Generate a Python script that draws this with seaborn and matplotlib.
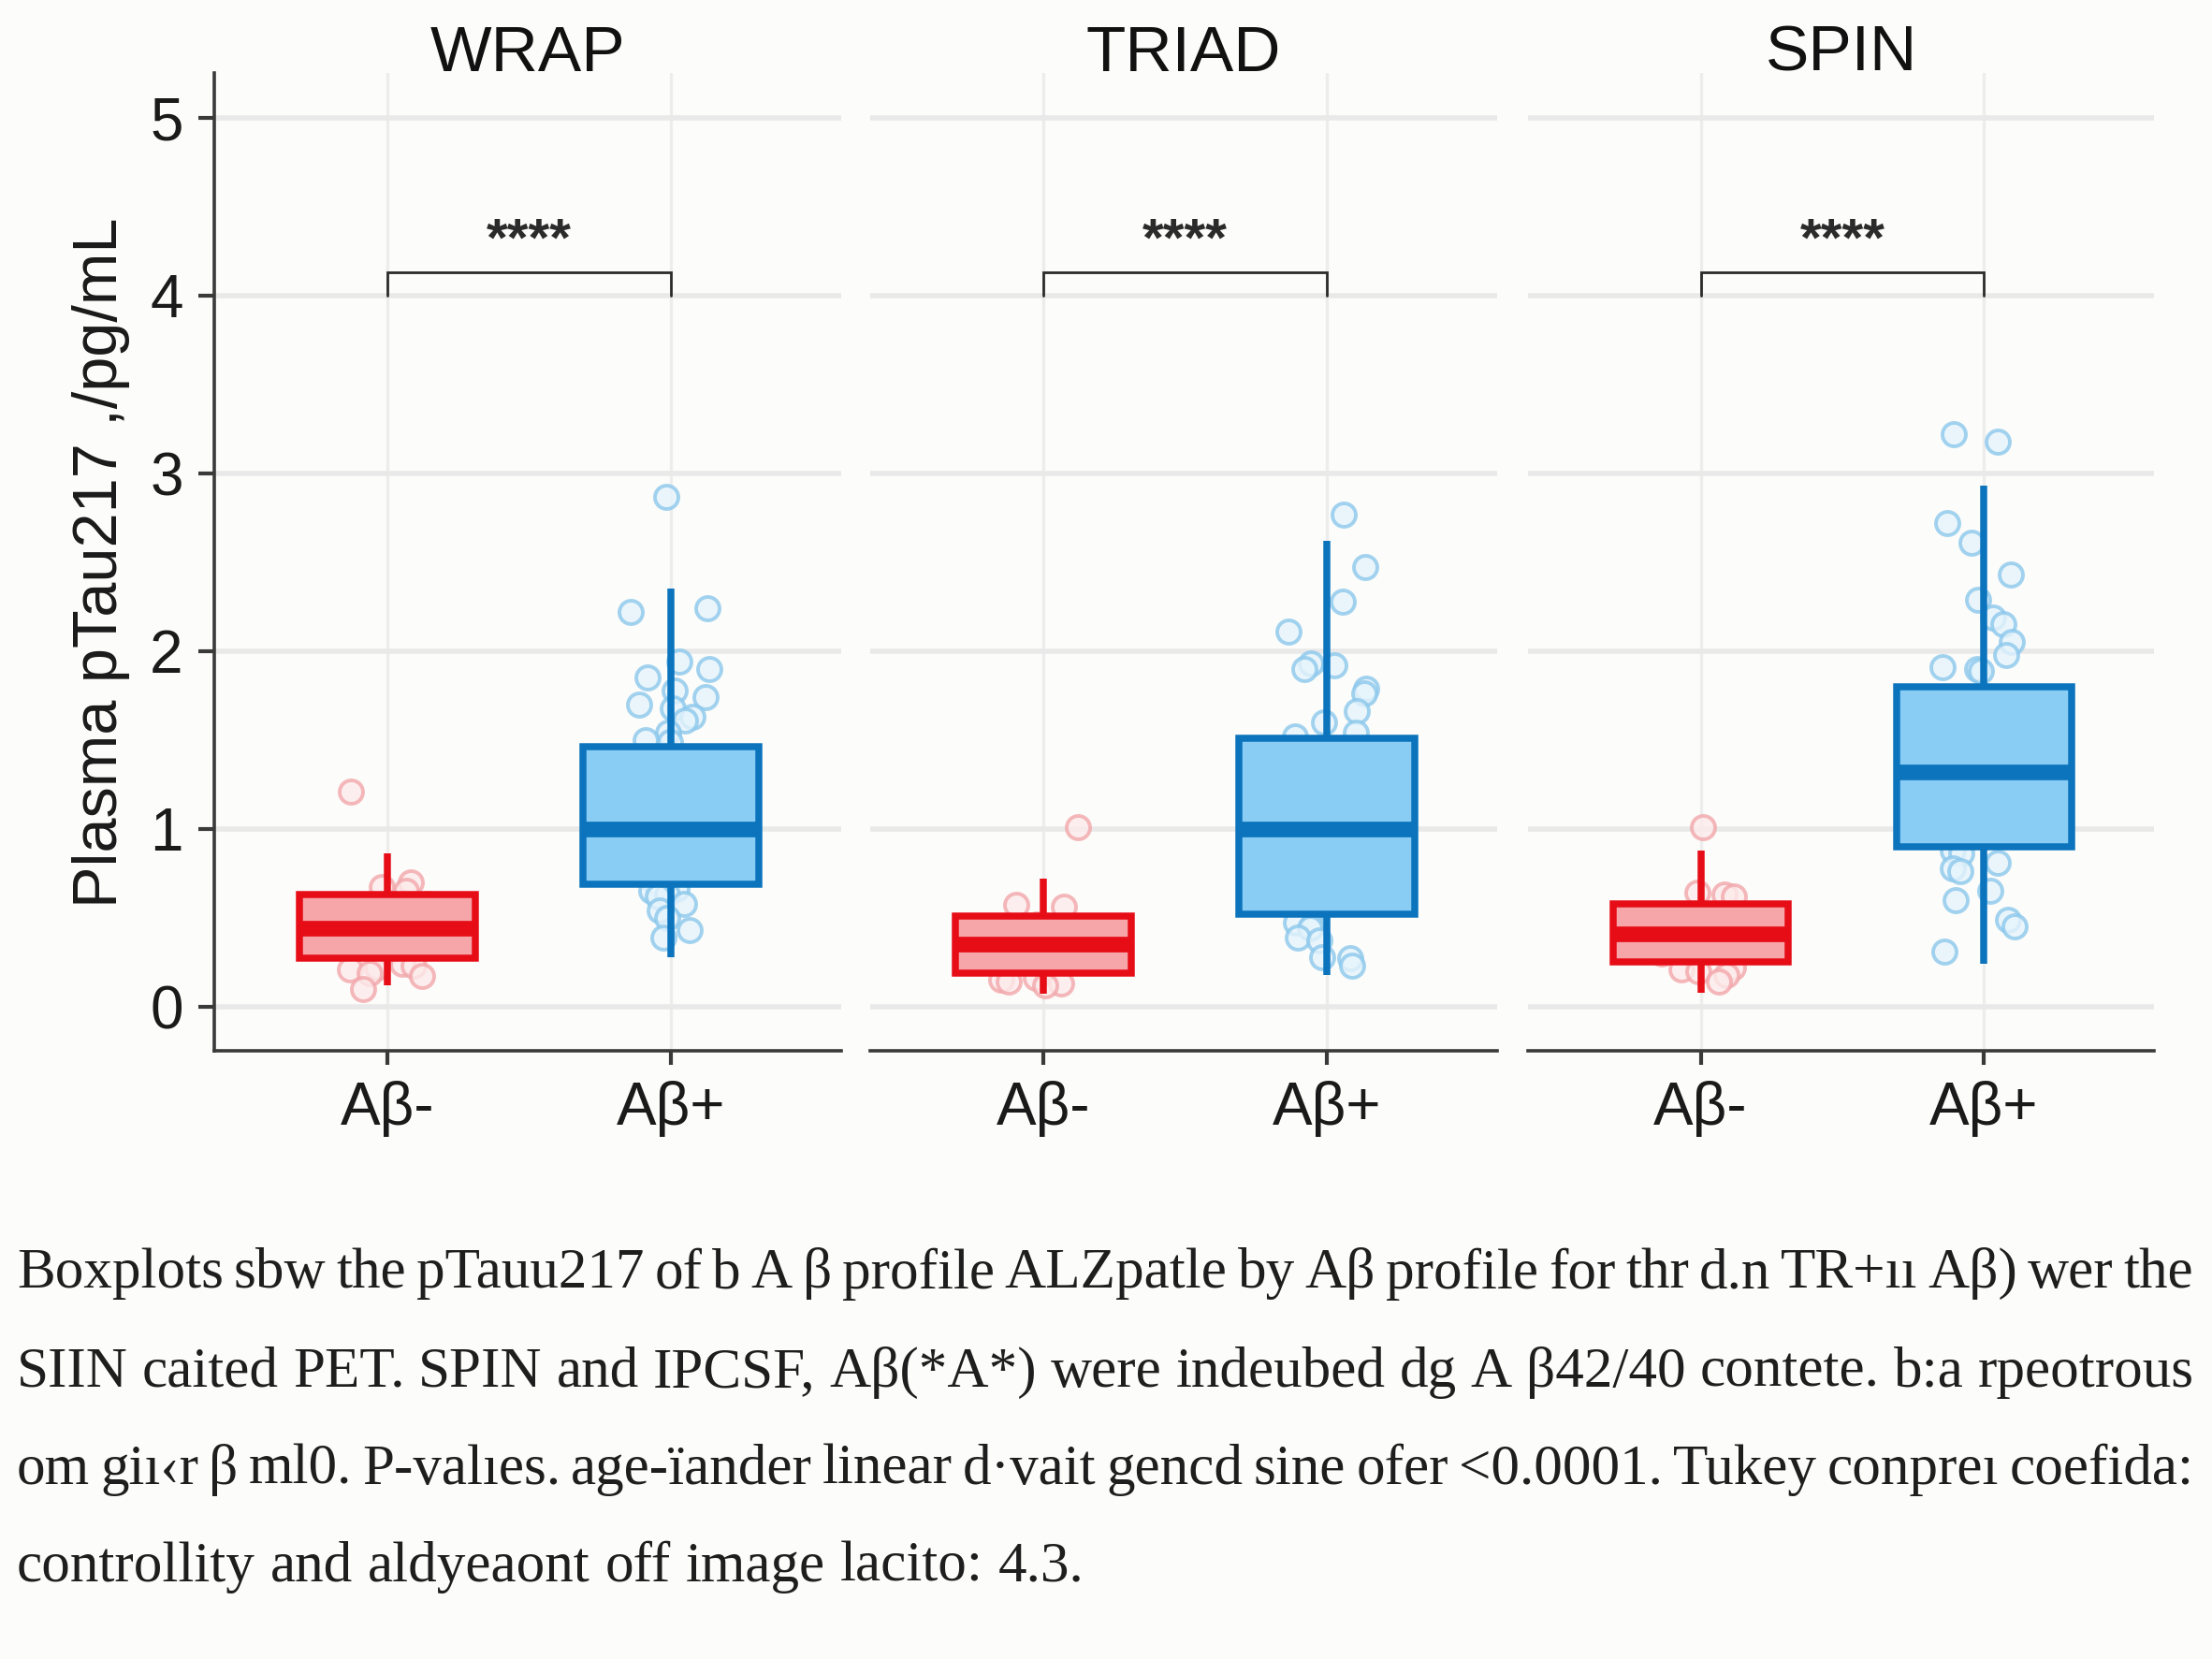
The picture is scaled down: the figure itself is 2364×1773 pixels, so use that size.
import numpy as np
import pandas as pd
import matplotlib
matplotlib.use("Agg")
import matplotlib.pyplot as plt
import seaborn as sns

# --- data ---------------------------------------------------------------
studies = ["WRAP", "TRIAD", "SPIN"]
groups = ["Aβ-", "Aβ+"]

# five-number summaries: whisker low, Q1, median, Q3, whisker high
wrap_neg_box = [0.12, 0.27, 0.44, 0.63, 0.86]
wrap_pos_box = [0.28, 0.69, 1.00, 1.46, 2.35]
triad_neg_box = [0.07, 0.19, 0.35, 0.51, 0.72]
triad_pos_box = [0.18, 0.52, 1.00, 1.51, 2.62]
spin_neg_box = [0.08, 0.25, 0.41, 0.58, 0.88]
spin_pos_box = [0.24, 0.90, 1.32, 1.80, 2.93]

# individual participants
wrap_neg_pts = [1.21, 0.70, 0.67, 0.65, 0.58, 0.52, 0.47, 0.41, 0.36, 0.31,
                0.24, 0.23, 0.22, 0.21, 0.19, 0.17, 0.10]
wrap_pos_pts = [2.87, 2.24, 2.22, 1.94, 1.90, 1.85, 1.78, 1.74, 1.70, 1.68,
                1.63, 1.61, 1.54, 1.50, 1.49, 1.35, 1.22, 1.10, 0.95, 0.84,
                0.70, 0.66, 0.65, 0.63, 0.62, 0.58, 0.54, 0.50, 0.43, 0.39]
triad_neg_pts = [1.01, 0.57, 0.56, 0.46, 0.40, 0.30, 0.24, 0.16, 0.15, 0.14,
                 0.13, 0.12]
triad_pos_pts = [2.77, 2.47, 2.28, 2.11, 1.93, 1.92, 1.90, 1.79, 1.76, 1.66,
                 1.60, 1.54, 1.52, 1.30, 1.15, 0.85, 0.70, 0.47, 0.46, 0.45,
                 0.44, 0.39, 0.37, 0.28, 0.27, 0.23]
spin_neg_pts = [1.01, 0.64, 0.63, 0.62, 0.50, 0.44, 0.35, 0.30, 0.22, 0.21,
                0.20, 0.18, 0.14]
spin_pos_pts = [3.22, 3.18, 2.72, 2.61, 2.43, 2.29, 2.19, 2.15, 2.05, 1.98,
                1.91, 1.90, 1.89, 1.60, 1.40, 1.30, 1.16, 1.10, 0.88, 0.86,
                0.81, 0.78, 0.76, 0.65, 0.60, 0.49, 0.45, 0.31]

y_ticks = [0, 1, 2, 3, 4, 5]
sig_label = "****"
sig_y = 4.0
y_label = "Plasma pTau217 ,/pg/mL"

caption_lines = [
    "Boxplots sbw the pTauu217 of b A β profile ALZpatle by Aβ profile for thr d.n TR+ıı Aβ) wer the",
    "SIIN caited PET. SPIN and IPCSF, Aβ(*A*) were indeubed dg A β42/40 contete. b:a rpeotrous",
    "om giı‹r β ml0. P-valıes. age-ïander linear d·vait gencd sine ofer <0.0001. Tukey conpreı coefida:",
    "controllity and aldyeaont off image lacito: 4.3.",
]

box_data = {
    "WRAP": (wrap_neg_box, wrap_pos_box),
    "TRIAD": (triad_neg_box, triad_pos_box),
    "SPIN": (spin_neg_box, spin_pos_box),
}
pts_data = {
    "WRAP": (wrap_neg_pts, wrap_pos_pts),
    "TRIAD": (triad_neg_pts, triad_pos_pts),
    "SPIN": (spin_neg_pts, spin_pos_pts),
}

# --- style ----------------------------------------------------------------
sns.set_theme(style="white")
plt.rcParams["font.family"] = ["Liberation Sans", "DejaVu Sans"]

edge_cols = {"Aβ-": "#E60D17", "Aβ+": "#0B74BD"}
face_cols = {"Aβ-": "#F6A5A8", "Aβ+": "#89CDF4"}
pt_edge = {"Aβ-": "#F2A7AB", "Aβ+": "#8CC8EC"}
pt_face = {"Aβ-": "#FDEBEB", "Aβ+": "#E6F4FC"}
ink = "#2B2B2B"
bg = "#FCFCFA"

fig = plt.figure(figsize=(11.82, 8.865), dpi=200, facecolor=bg)

lefts = [152 / 1568, 617 / 1568, 1083 / 1568]
width = 444 / 1568
bottom = 1 - 745 / 1176
height = (745 - 52) / 1176

np.random.seed(7)

for i, study in enumerate(studies):
    ax = fig.add_axes([lefts[i], bottom, width, height])
    ax.set_facecolor(bg)

    rows = []
    for g, vals in zip(groups, pts_data[study]):
        rows += [{"group": g, "value": v} for v in vals]
    pts = pd.DataFrame(rows)

    rows = []
    for g, vals in zip(groups, box_data[study]):
        rows += [{"group": g, "value": v} for v in vals]
    boxes = pd.DataFrame(rows)

    for g in groups:
        sns.stripplot(data=pts[pts.group == g], x="group", y="value",
                      order=groups, color=pt_face[g], edgecolor=pt_edge[g],
                      linewidth=1.4, size=9, jitter=0.15, alpha=0.8,
                      zorder=1, ax=ax)

    for g in groups:
        sns.boxplot(data=boxes[boxes.group == g], x="group", y="value",
                    order=groups, color=face_cols[g], saturation=1,
                    linecolor=edge_cols[g], linewidth=2.7, width=0.62,
                    whis=(0, 100), showfliers=False,
                    medianprops={"linewidth": 6.0, "color": edge_cols[g]},
                    capprops={"visible": False},
                    ax=ax)

    # significance bracket
    top = sig_y + 0.13
    ax.plot([0, 0, 1, 1], [sig_y, top, top, sig_y], color=ink, lw=1.0,
            solid_joinstyle="miter", zorder=4)
    ax.text(0.5, sig_y + 0.30, sig_label, ha="center", va="center",
            fontsize=21, fontweight="bold", color=ink)

    ax.set_xlim(-0.61, 1.6)
    ax.set_ylim(-0.25, 5.25)
    ax.set_yticks(y_ticks)
    ax.set_xlabel("")
    ax.set_ylabel("")

    ax.set_axisbelow(True)
    ax.yaxis.grid(True, color="#E9E9E9", lw=2.0)
    ax.xaxis.grid(True, color="#EDEDED", lw=1.2)

    for s in ["top", "right"]:
        ax.spines[s].set_visible(False)
    ax.spines["bottom"].set_color("#3A3A3A")
    ax.spines["bottom"].set_linewidth(1.3)
    ax.tick_params(axis="x", which="major", bottom=True, length=5.5,
                   width=1.5, color="#3A3A3A", pad=6, labelsize=23,
                   labelcolor="#1A1A1A")
    if i == 0:
        ax.spines["left"].set_color("#3A3A3A")
        ax.spines["left"].set_linewidth(1.3)
        ax.tick_params(axis="y", left=True, length=6, width=1.5,
                       color="#3A3A3A", pad=6, labelsize=23,
                       labelcolor="#1A1A1A")
        ax.set_ylabel(y_label, fontsize=24, color="#1A1A1A")
        ax.yaxis.set_label_coords(-0.135, 0.5)
    else:
        ax.spines["left"].set_visible(False)
        ax.tick_params(axis="y", left=False, labelleft=False)

    ax.text(0.5, 1.02, study, transform=ax.transAxes, ha="center",
            va="center", fontsize=25, color="#111111")

# --- justified caption ----------------------------------------------------
fig.canvas.draw()
renderer = fig.canvas.get_renderer()
W = fig.bbox.width
cap_size = 22
x_left, x_right = 12 / 1568, 1555 / 1568
line_y = [1 - 903 / 1176, 1 - 973 / 1176, 1 - 1042 / 1176, 1 - 1111 / 1176]
cap_kw = dict(fontsize=cap_size, color="#1E1E1E", va="center", ha="left",
              family=["Liberation Serif", "DejaVu Serif"])

for k, (line, y) in enumerate(zip(caption_lines, line_y)):
    words = line.split(" ")
    texts = [fig.text(0, y, w, **cap_kw) for w in words]
    widths = [t.get_window_extent(renderer).width for t in texts]
    if k < len(caption_lines) - 1:
        gap = ((x_right - x_left) * W - sum(widths)) / (len(words) - 1)
    else:
        gap = 0.26 * cap_size * fig.dpi / 72
    x = x_left * W
    for t, w in zip(texts, widths):
        t.set_x(x / W)
        x += w + gap

fig.savefig("out.png", dpi=200, facecolor=bg)
